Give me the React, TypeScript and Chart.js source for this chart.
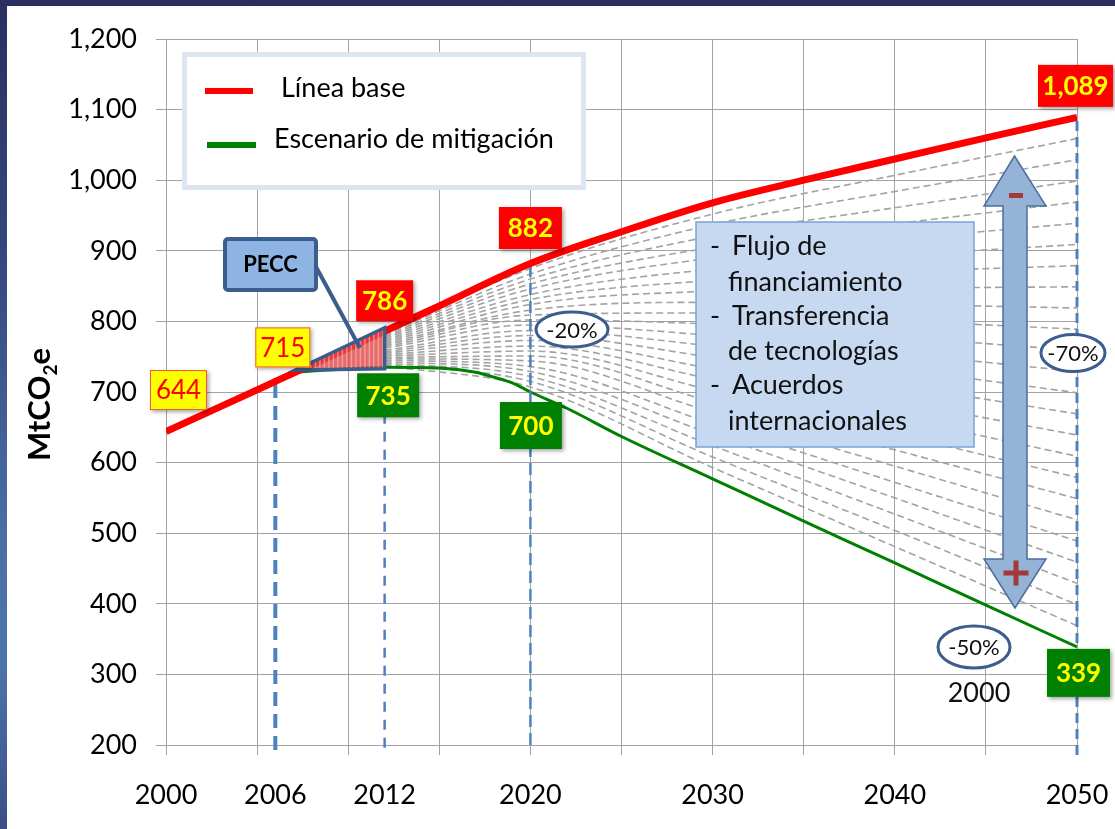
import React, { useEffect, useRef } from "react";
import { Chart, registerables } from "chart.js";

Chart.register(...registerables);

const FONT = "Lato, 'Open Sans', sans-serif";

// ---------------- data ----------------
const baselineYears = [2000, 2005, 2006, 2010, 2012, 2015, 2020, 2025, 2030, 2035, 2040, 2045, 2050];
const baselineValues = [644, 703, 715, 762, 786, 822, 882, 927, 968, 1000, 1030, 1060, 1089];

const mitigationYears = [2007, 2010, 2012, 2015, 2017, 2018, 2019, 2020, 2022, 2025, 2030, 2035, 2040, 2045, 2050];
const mitigationValues = [728, 733, 735, 734, 728, 721, 713, 700, 677, 637, 577, 517, 458, 398, 339];

// dashed scenario lines between the two series, read at these years
const fanYears = [2012, 2020, 2030, 2040, 2050];
const fanLineValues = [
  [784, 875, 952, 1007, 1059],
  [782, 867, 937, 984, 1029],
  [780, 860, 921, 961, 999],
  [778, 853, 905, 938, 969],
  [776, 846, 890, 916, 939],
  [774, 838, 874, 893, 909],
  [772, 831, 858, 870, 879],
  [770, 824, 843, 847, 849],
  [768, 816, 827, 824, 819],
  [766, 809, 812, 801, 789],
  [764, 802, 796, 778, 759],
  [762, 795, 780, 755, 729],
  [759, 787, 765, 733, 699],
  [757, 780, 749, 710, 669],
  [755, 773, 733, 687, 639],
  [753, 765, 718, 664, 609],
  [751, 758, 702, 641, 579],
  [749, 751, 686, 618, 549],
  [747, 744, 671, 595, 519],
  [745, 736, 655, 572, 489],
  [743, 729, 640, 550, 459],
  [741, 722, 624, 527, 429],
  [739, 715, 608, 504, 399],
  [737, 707, 593, 481, 369],
];

// vertical reference markers
const markerYears = [2006, 2012, 2020, 2050];
const markerTopValues = [715, 786, 882, 1089];
const markerBottomValues = [193, 196, 200, 186];

// axis ticks
const xGridYears = [2000, 2005, 2006, 2010, 2012, 2015, 2020, 2025, 2030, 2035, 2040, 2045, 2050];
const xLabelYears = [2000, 2006, 2012, 2020, 2030, 2040, 2050];
const yMin = 200;
const yMax = 1200;
const yStep = 100;

// annotated values
const valueLabelYears = [2000, 2006, 2012, 2012, 2020, 2020, 2050, 2050];
const valueLabelValues = [644, 715, 786, 735, 882, 700, 1089, 339];

// PECC triangle (year, value)
const peccYears = [2007.1, 2012, 2012];
const peccValues = [731, 791, 733];

// texts
const legendLabels = ["Línea base", "Escenario de mitigación"];
const noteLines = ["Flujo de", "financiamiento", "Transferencia", "de tecnologías", "Acuerdos", "internacionales"];
const noteDashed = [true, false, true, false, true, false];
const ovalTexts = ["-20%", "-70%", "-50%"];
const yTitle = ["MtCO", "2", "e"];

// ---------------- styles (kept apart from data) ----------------
const labelStyles = [
  { kind: "y", w: 57, h: 40, dx: 12.5, dy: -41.5 },
  { kind: "y", w: 55, h: 40, dx: 7.5, dy: -34 },
  { kind: "r", w: 57, h: 41, dx: 0, dy: -30.5 },
  { kind: "g", w: 62, h: 44, dx: 3.5, dy: 28 },
  { kind: "r", w: 63, h: 42, dx: 0, dy: -35.5 },
  { kind: "g", w: 62, h: 47, dx: 0.5, dy: 33.5 },
  { kind: "r", w: 75, h: 42, dx: -1.5, dy: -31.5 },
  { kind: "g", w: 63, h: 48, dx: 1.5, dy: 26 },
];
const ovalStyles = [
  { cx: 565, cy: 323.5, rx: 36, ry: 17.5 },
  { cx: 1066, cy: 347, rx: 32, ry: 18.5 },
  { cx: 967, cy: 641, rx: 36, ry: 21 },
];
const markerStyles = [
  { width: 4, dash: [14, 8] },
  { width: 2.5, dash: [10, 8] },
  { width: 2.5, dash: [12, 6] },
  { width: 3, dash: [10, 6] },
];

const DARK_BLUE = "#3b5e8c";

function font(size: number, bold = false) {
  return `${bold ? "bold " : ""}${size}px ${FONT}`;
}

const overlayPlugin = {
  id: "overlay",
  afterDatasetsDraw(chart: any) {
    const { ctx } = chart;
    const xs = chart.scales.x;
    const ys = chart.scales.y;
    const pts = peccYears.map((yr, i) => [xs.getPixelForValue(yr), ys.getPixelForValue(peccValues[i])]);
    const path = () => {
      ctx.beginPath();
      ctx.moveTo(pts[0][0], pts[0][1]);
      ctx.lineTo(pts[1][0], pts[1][1]);
      ctx.lineTo(pts[2][0], pts[2][1]);
      ctx.closePath();
    };
    ctx.save();
    path();
    ctx.fillStyle = "rgba(224, 70, 70, 0.8)";
    ctx.fill();
    ctx.save();
    path();
    ctx.clip();
    ctx.strokeStyle = "rgba(255, 195, 195, 0.55)";
    ctx.lineWidth = 1.5;
    for (let xx = pts[0][0] + 2; xx < pts[1][0]; xx += 4.5) {
      ctx.beginPath();
      ctx.moveTo(xx, pts[1][1]);
      ctx.lineTo(xx, pts[2][1] + 2);
      ctx.stroke();
    }
    ctx.restore();
    path();
    ctx.strokeStyle = DARK_BLUE;
    ctx.lineWidth = 3.5;
    ctx.lineJoin = "miter";
    ctx.stroke();
    ctx.restore();
  },
  afterDraw(chart: any) {
    const { ctx } = chart;
    const xs = chart.scales.x;
    const ys = chart.scales.y;
    ctx.save();

    // ---- legend ----
    ctx.fillStyle = "#ffffff";
    ctx.fillRect(177.5, 48.5, 399, 133);
    ctx.strokeStyle = "#dce6f2";
    ctx.lineWidth = 5;
    ctx.strokeRect(177.5, 48.5, 399, 133);
    ctx.lineWidth = 6;
    ctx.strokeStyle = "#ff0000";
    ctx.beginPath();
    ctx.moveTo(198, 85);
    ctx.lineTo(246, 85);
    ctx.stroke();
    ctx.strokeStyle = "#008000";
    ctx.beginPath();
    ctx.moveTo(200, 139);
    ctx.lineTo(249, 139);
    ctx.stroke();
    ctx.fillStyle = "#000";
    ctx.font = font(27);
    ctx.textAlign = "left";
    ctx.textBaseline = "alphabetic";
    ctx.fillText(legendLabels[0], 274, 91);
    ctx.fillText(legendLabels[1], 267, 142);

    // ---- note box ----
    ctx.fillStyle = "#c6d9f1";
    ctx.fillRect(689, 216, 278, 225);
    ctx.strokeStyle = "#7aa3d6";
    ctx.lineWidth = 1.5;
    ctx.strokeRect(689, 216, 278, 225);
    ctx.fillStyle = "#111";
    ctx.font = font(27);
    const baselines = [249, 284.5, 319, 354, 388, 424];
    noteLines.forEach((t, i) => {
      if (noteDashed[i]) {
        ctx.fillText("-", 703, baselines[i]);
        ctx.fillText(t, 725, baselines[i]);
      } else {
        ctx.fillText(t, 721, baselines[i]);
      }
    });

    // ---- double arrow ----
    ctx.beginPath();
    ctx.moveTo(1007.5, 150);
    ctx.lineTo(1039, 200);
    ctx.lineTo(1020, 200);
    ctx.lineTo(1020, 553);
    ctx.lineTo(1039, 553);
    ctx.lineTo(1008, 602);
    ctx.lineTo(977, 553);
    ctx.lineTo(996, 553);
    ctx.lineTo(996, 200);
    ctx.lineTo(977, 200);
    ctx.closePath();
    ctx.fillStyle = "#95b3d7";
    ctx.fill();
    ctx.strokeStyle = "#4b6e9c";
    ctx.lineWidth = 1.5;
    ctx.stroke();
    ctx.fillStyle = "#a23a3a";
    ctx.fillRect(1002, 187, 14, 5);
    ctx.fillRect(996.5, 564.5, 25, 5);
    ctx.fillRect(1006.5, 554.5, 5, 25);

    // ---- ovals ----
    ovalStyles.forEach((o, i) => {
      ctx.beginPath();
      ctx.ellipse(o.cx, o.cy, o.rx, o.ry, 0, 0, Math.PI * 2);
      ctx.fillStyle = "#fff";
      ctx.fill();
      ctx.strokeStyle = DARK_BLUE;
      ctx.lineWidth = 3;
      ctx.stroke();
      ctx.fillStyle = "#111";
      ctx.font = font(22);
      ctx.textAlign = "center";
      ctx.fillText(ovalTexts[i], o.cx, o.cy + 8);
    });
    ctx.font = font(27);
    ctx.fillStyle = "#111";
    ctx.textAlign = "center";
    ctx.fillText("2000", 972, 686.5 + 9.7);

    // ---- PECC callout ----
    ctx.strokeStyle = DARK_BLUE;
    ctx.lineWidth = 4;
    ctx.beginPath();
    ctx.moveTo(308, 259);
    ctx.lineTo(353, 342);
    ctx.stroke();
    ctx.beginPath();
    ctx.roundRect(218, 233, 91, 51, 3);
    ctx.fillStyle = "#8db4e2";
    ctx.fill();
    ctx.stroke();
    ctx.fillStyle = "#000";
    ctx.font = font(22, true);
    ctx.textAlign = "center";
    ctx.fillText("PECC", 263.5, 257.5 + 8);

    // ---- value labels ----
    valueLabelValues.forEach((v, i) => {
      const s = labelStyles[i];
      const cx = xs.getPixelForValue(valueLabelYears[i]) + s.dx;
      const cy = ys.getPixelForValue(v) + s.dy;
      const x0 = cx - s.w / 2;
      const y0 = cy - s.h / 2;
      ctx.save();
      ctx.shadowColor = "rgba(0,0,0,0.35)";
      ctx.shadowBlur = 4;
      ctx.shadowOffsetX = 2;
      ctx.shadowOffsetY = 2;
      ctx.fillStyle = s.kind === "y" ? "#ffff00" : s.kind === "r" ? "#ff0000" : "#008000";
      ctx.fillRect(x0, y0, s.w, s.h);
      ctx.restore();
      if (s.kind === "y") {
        ctx.strokeStyle = "#f05a3c";
        ctx.lineWidth = 1;
        ctx.strokeRect(x0 + 0.5, y0 + 0.5, s.w - 1, s.h - 1);
      }
      ctx.fillStyle = s.kind === "y" ? "#ff0000" : "#ffff00";
      ctx.font = font(26, s.kind !== "y");
      ctx.textAlign = "center";
      ctx.fillText(v.toLocaleString("en-US"), cx, cy + 9.4);
    });

    // ---- y title ----
    ctx.translate(43, 398.5);
    ctx.rotate(-Math.PI / 2);
    ctx.fillStyle = "#000";
    ctx.textAlign = "left";
    ctx.font = font(31, true);
    const w1 = ctx.measureText(yTitle[0]).width;
    const w3 = ctx.measureText(yTitle[2]).width;
    ctx.font = font(19, true);
    const w2 = ctx.measureText(yTitle[1]).width;
    const start = -(w1 + w2 + w3) / 2;
    ctx.font = font(31, true);
    ctx.fillText(yTitle[0], start, 0);
    ctx.fillText(yTitle[2], start + w1 + w2, 0);
    ctx.font = font(19, true);
    ctx.fillText(yTitle[1], start + w1, 7);

    ctx.restore();
  },
};

export default function App() {
  const ref = useRef<HTMLCanvasElement>(null);

  useEffect(() => {
    const canvas = ref.current;
    if (!canvas) return;

    const lineOpts = { pointRadius: 0, pointHoverRadius: 0, cubicInterpolationMode: "monotone" as const };

    const datasets: any[] = [
      {
        label: legendLabels[0],
        data: baselineYears.map((yr, i) => ({ x: yr, y: baselineValues[i] })),
        borderColor: "#ff0000",
        borderWidth: 7,
        order: 0,
        ...lineOpts,
      },
      ...markerYears.map((yr, i) => ({
        label: "marker" + yr,
        data: [
          { x: yr, y: markerBottomValues[i] },
          { x: yr, y: markerTopValues[i] },
        ],
        borderColor: "#4f81bd",
        borderWidth: markerStyles[i].width,
        borderDash: markerStyles[i].dash,
        clip: false,
        order: 1,
        pointRadius: 0,
      })),
      {
        label: legendLabels[1],
        data: mitigationYears.map((yr, i) => ({ x: yr, y: mitigationValues[i] })),
        borderColor: "#008000",
        borderWidth: 3,
        order: 2,
        ...lineOpts,
      },
      ...fanLineValues.map((vals, k) => ({
        label: "escenario " + (k + 1),
        data: fanYears.map((yr, i) => ({ x: yr, y: vals[i] })),
        borderColor: "#a3a3a3",
        borderWidth: 1.6,
        borderDash: [7, 4],
        order: 3,
        ...lineOpts,
      })),
    ];

    const chart = new Chart(canvas, {
      type: "line",
      data: { datasets },
      options: {
        animation: false,
        responsive: false,
        devicePixelRatio: 1,
        layout: { padding: { left: 0, top: 33, right: 38, bottom: 0 } },
        plugins: { legend: { display: false }, tooltip: { enabled: false } },
        events: [],
        scales: {
          x: {
            type: "linear",
            min: 2000,
            max: 2050,
            afterBuildTicks: (s: any) => {
              s.ticks = xGridYears.map((v) => ({ value: v }));
            },
            afterFit: (s: any) => {
              s.height = 84;
              s.paddingLeft = 0;
              s.paddingRight = 0;
            },
            grid: {
              color: (c: any) =>
                c.tick && (c.tick.value === 2006 || c.tick.value === 2012) ? "rgba(0,0,0,0)" : "#a3a3a3",
              tickLength: 10,
              lineWidth: 1,
            },
            border: { display: true, color: "#a3a3a3" },
            ticks: {
              autoSkip: false,
              maxRotation: 0,
              minRotation: 0,
              padding: 24,
              color: "#000",
              font: { family: FONT, size: 27 },
              callback: (v: any) => (xLabelYears.includes(Number(v)) ? String(v) : ""),
            },
          },
          y: {
            type: "linear",
            min: yMin,
            max: yMax,
            afterFit: (s: any) => {
              s.width = 159;
              s.paddingTop = 0;
              s.paddingBottom = 0;
            },
            grid: { color: "#a3a3a3", tickLength: 10, lineWidth: 1 },
            border: { display: true, color: "#a3a3a3" },
            ticks: {
              stepSize: yStep,
              padding: 19,
              color: "#000",
              font: { family: FONT, size: 27 },
              callback: (v: any) => Number(v).toLocaleString("en-US"),
            },
          },
        },
      },
      plugins: [overlayPlugin],
    } as any);

    return () => chart.destroy();
  }, []);

  return (
    <div
      style={{
        position: "fixed",
        left: 0,
        top: 0,
        width: 1115,
        height: 829,
        overflow: "hidden",
        background: "linear-gradient(to bottom, #2a2f5f 0%, #34477c 30%, #4a6fa6 65%, #4c74ab 80%, #3a4f86 100%)",
      }}
    >
      <div style={{ position: "absolute", left: 7, top: 6, width: 1108, height: 823, background: "#ffffff" }}>
        <canvas ref={ref} width={1108} height={823} style={{ display: "block" }} />
      </div>
    </div>
  );
}
